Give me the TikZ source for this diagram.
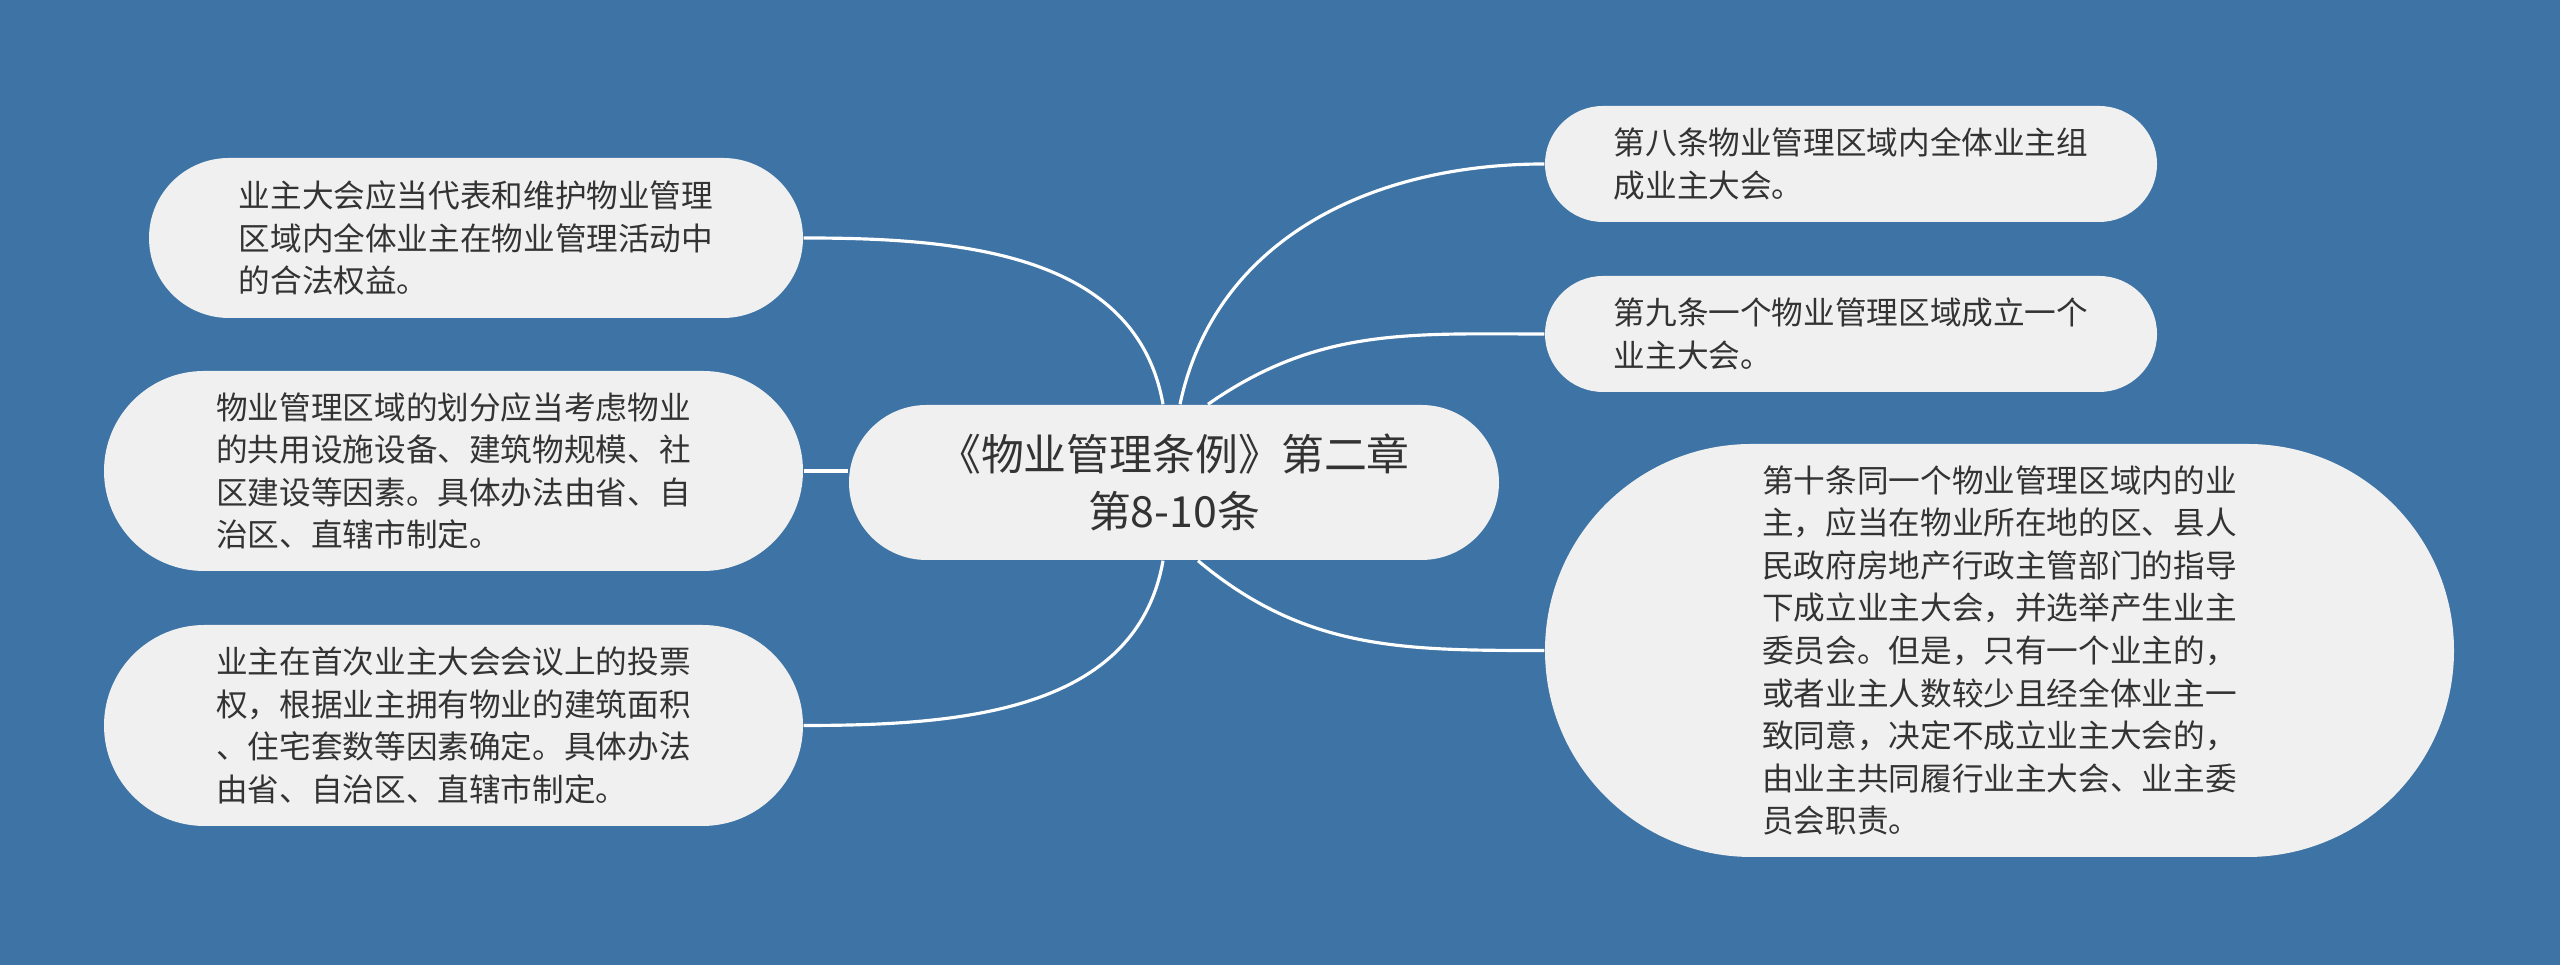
\documentclass[tikz,border=0pt]{standalone}
\usepackage{fontspec}
\setmainfont{Noto Sans CJK SC}
\usetikzlibrary{shapes.misc}
\definecolor{bgblue}{HTML}{3D73A5}
\definecolor{nodegray}{HTML}{F0F0F0}
\definecolor{txtgray}{HTML}{333333}
\tikzset{
  leaf/.style={rounded rectangle, fill=nodegray, text=txtgray, align=left,
    inner sep=0pt, font=\fontsize{9}{12.1}\selectfont},
  topic/.style={leaf, align=center, font=\fontsize{12.2}{16.2}\selectfont},
  link/.style={draw=white, line width=0.9pt},
}
\begin{document}
\begin{tikzpicture}
  \fill[bgblue] (0,0) rectangle (25.6,9.65);
  \useasboundingbox (0,0) rectangle (25.6,9.65);
  \node[topic, minimum width=6.5cm, minimum height=1.55cm] (root) at (11.74,4.825)
    {《物业管理条例》第二章\\第8-10条};
  \node[leaf, minimum width=6.54cm, minimum height=1.6cm] (l1) at (4.76,7.27)
    {业主大会应当代表和维护物业管理\\区域内全体业主在物业管理活动中\\的合法权益。};
  \node[leaf, minimum width=6.99cm, minimum height=2cm] (l2) at (4.535,4.94)
    {物业管理区域的划分应当考虑物业\\的共用设施设备、建筑物规模、社\\区建设等因素。具体办法由省、自\\治区、直辖市制定。};
  \node[leaf, minimum width=6.99cm, minimum height=2.01cm] (l3) at (4.535,2.395)
    {业主在首次业主大会会议上的投票\\权，根据业主拥有物业的建筑面积\\、住宅套数等因素确定。具体办法\\由省、自治区、直辖市制定。};
  \node[leaf, minimum width=6.12cm, minimum height=1.16cm] (r1) at (18.51,8.01)
    {第八条物业管理区域内全体业主组\\成业主大会。};
  \node[leaf, minimum width=6.12cm, minimum height=1.16cm] (r2) at (18.51,6.31)
    {第九条一个物业管理区域成立一个\\业主大会。};
  \node[leaf, minimum width=9.09cm, minimum height=4.13cm] (r3) at (19.995,3.145)
    {第十条同一个物业管理区域内的业\\主，应当在物业所在地的区、县人\\民政府房地产行政主管部门的指导\\下成立业主大会，并选举产生业主\\委员会。但是，只有一个业主的，\\或者业主人数较少且经全体业主一\\致同意，决定不成立业主大会的，\\由业主共同履行业主大会、业主委\\员会职责。};
  \draw[link] ([xshift=-0.11cm]root.north) to[out=100,in=0] (l1.east);
  \draw[link] (l2.east) -- (l2.east -| root.west);
  \draw[link] ([xshift=-0.11cm]root.south) to[out=-100,in=0] (l3.east);
  \draw[link] ([xshift=0.06cm]root.north) to[out=78,in=180] (r1.west);
  \draw[link] ([xshift=0.34cm]root.north) to[out=35,in=180] (r2.west);
  \draw[link] ([xshift=0.24cm]root.south) to[out=-40,in=180] (r3.west);
\end{tikzpicture}
\end{document}
